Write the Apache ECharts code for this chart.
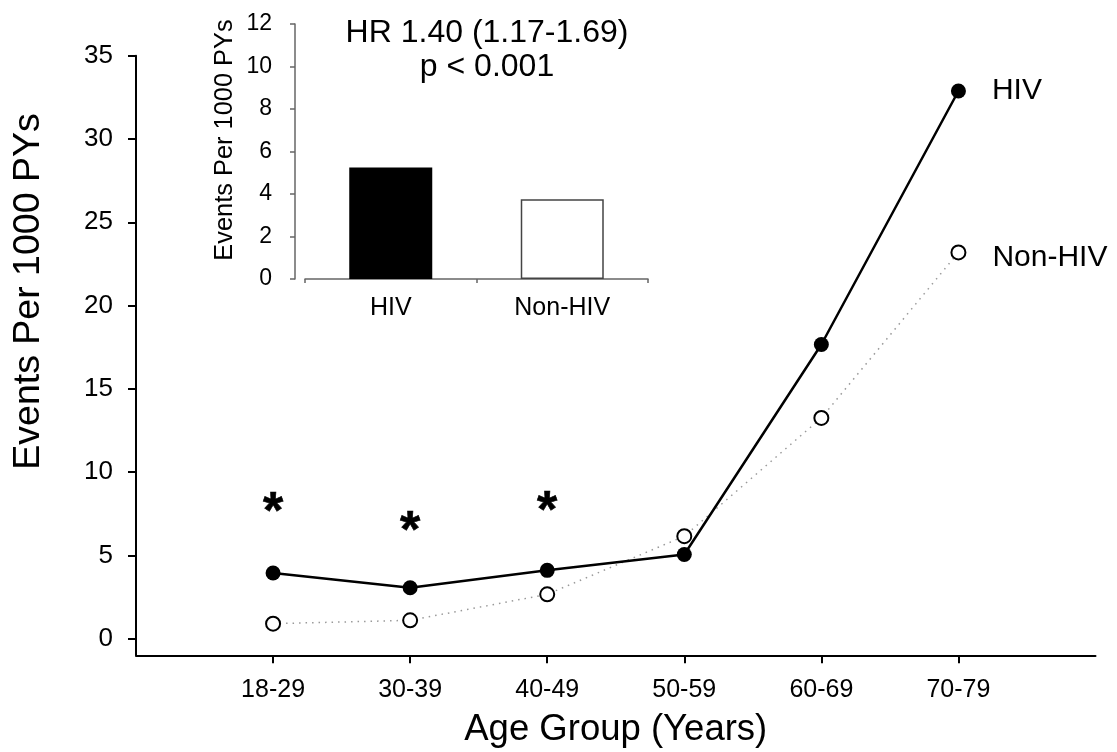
<!DOCTYPE html>
<html><head><meta charset="utf-8">
<script src="https://cdn.jsdelivr.net/npm/echarts@6/dist/echarts.min.js"></script>
<style>html,body{margin:0;padding:0;background:#fff}#c{width:1117px;height:752px}</style>
</head><body><div id="c"></div>
<script>
const ageGroups = ['18-29', '30-39', '40-49', '50-59', '60-69', '70-79'];
const hivRates = [3.94, 3.06, 4.10, 5.05, 17.66, 32.88];
const nonHivRates = [0.90, 1.10, 2.66, 6.15, 13.25, 23.19];
const sigGroups = ['18-29', '30-39', '40-49'];
const sigMarkY = [8.2, 7.1, 8.3];
const yTicks = [0, 5, 10, 15, 20, 25, 30, 35];
const insetCategories = ['HIV', 'Non-HIV'];
const insetRates = [5.25, 3.75];
const annotation = ['HR 1.40 (1.17-1.69)', 'p < 0.001'];

const FONT = 'Liberation Sans, Arial, Helvetica, sans-serif';
const cats = [''].concat(ageGroups, ['']);
function padWithEndLabel(arr) {
  const out = arr.map((v, i) => i === arr.length - 1 ? { value: v, label: { show: true } } : v);
  return [null].concat(out, [null]);
}

const chart = echarts.init(document.getElementById('c'), null, { renderer: 'canvas' });
chart.setOption({
  animation: false,
  backgroundColor: '#fff',
  textStyle: { fontFamily: FONT, color: '#000' },
  grid: [
    { left: 136, top: 55.7, width: 959.5, height: 599.6, containLabel: false, outerBoundsMode: 'none' },
    { left: 305, top: 24, width: 343, height: 255, containLabel: false, outerBoundsMode: 'none' }
  ],
  xAxis: [
    {
      type: 'category', gridIndex: 0, data: cats, boundaryGap: false,
      axisLine: { show: true, onZero: false, lineStyle: { color: '#000', width: 2 } },
      axisTick: { show: true, length: 8, interval: (i, v) => v !== '', lineStyle: { color: '#000', width: 2 } },
      axisLabel: { interval: 0, margin: 22, fontSize: 25, color: '#000', fontFamily: FONT },
      splitLine: { show: false },
      name: 'Age Group (Years)', nameLocation: 'middle', nameGap: 56,
      nameTextStyle: { fontSize: 36.5, color: '#000', fontFamily: FONT }
    },
    {
      type: 'category', gridIndex: 1, data: insetCategories,
      axisLine: { show: true, lineStyle: { color: '#666', width: 1.5 } },
      axisTick: { show: true, length: 4, lineStyle: { color: '#666', width: 1.5 } },
      axisLabel: { margin: 17, fontSize: 25, color: '#000', fontFamily: FONT },
      splitLine: { show: false }
    }
  ],
  yAxis: [
    {
      type: 'value', gridIndex: 0, min: -1, max: 35,
      axisLine: { show: true, lineStyle: { color: '#000', width: 2 } },
      axisTick: { show: true, length: 8, customValues: yTicks, lineStyle: { color: '#000', width: 2 } },
      axisLabel: { customValues: yTicks, margin: 23, fontSize: 26, color: '#000', fontFamily: FONT },
      splitLine: { show: false },
      name: 'Events Per 1000 PYs', nameLocation: 'middle', nameGap: 88,
      nameTextStyle: { fontSize: 37.5, color: '#000', fontFamily: FONT, padding: [0, 0, 0, 128] }
    },
    {
      type: 'value', gridIndex: 1, min: 0, max: 12, interval: 2, offset: 10,
      axisLine: { show: true, lineStyle: { color: '#666', width: 1.5 } },
      axisTick: { show: true, length: 5, lineStyle: { color: '#666', width: 1.5 } },
      axisLabel: { margin: 23, fontSize: 23, color: '#000', fontFamily: FONT },
      splitLine: { show: false },
      name: 'Events Per 1000 PYs', nameLocation: 'middle', nameGap: 58,
      nameTextStyle: { fontSize: 25.4, color: '#000', fontFamily: FONT, padding: [0, 0, 0, 23] }
    }
  ],
  series: [
    {
      name: 'Non-HIV', type: 'line', xAxisIndex: 0, yAxisIndex: 0,
      data: padWithEndLabel(nonHivRates),
      symbol: 'circle', symbolSize: 14,
      itemStyle: { color: '#fff', borderColor: '#000', borderWidth: 2 },
      lineStyle: { color: '#999', width: 1.5, type: [1.5, 5] },
      label: { show: false, formatter: '{a}', position: 'right', distance: 26, offset: [0, 5], fontSize: 30, color: '#000', fontFamily: FONT },
      z: 2
    },
    {
      name: 'HIV', type: 'line', xAxisIndex: 0, yAxisIndex: 0,
      data: padWithEndLabel(hivRates),
      symbol: 'circle', symbolSize: 15,
      itemStyle: { color: '#000', borderColor: '#000', borderWidth: 0 },
      lineStyle: { color: '#000', width: 2.5 },
      label: { show: false, formatter: '{a}', position: 'right', distance: 26, fontSize: 30, color: '#000', fontFamily: FONT },
      z: 3
    },
    {
      name: 'sig', type: 'scatter', xAxisIndex: 0, yAxisIndex: 0,
      data: sigMarkY.map((v, i) => [sigGroups[i], v]),
      symbolSize: 1, itemStyle: { color: 'rgba(0,0,0,0)' },
      label: { show: true, formatter: '*', position: 'inside', offset: [0, 12], fontSize: 52, fontWeight: 'bold', color: '#000', opacity: 1, textBorderColor: '#000', textBorderWidth: 0.6, fontFamily: FONT },
      silent: true
    },
    {
      name: 'inset', type: 'bar', xAxisIndex: 1, yAxisIndex: 1, barWidth: 83,
      data: insetRates.map((v, i) => ({
        value: v,
        itemStyle: i === 0 ? { color: '#000' } : { color: '#fff', borderColor: '#444', borderWidth: 1.5 }
      }))
    }
  ],
  graphic: [
    {
      type: 'text', x: 487, y: 16,
      style: { text: annotation.join('\n'), fontSize: 32, fontFamily: FONT, fill: '#000', textAlign: 'center', textVerticalAlign: 'top', lineHeight: 34 }
    }
  ]
});
</script></body></html>
